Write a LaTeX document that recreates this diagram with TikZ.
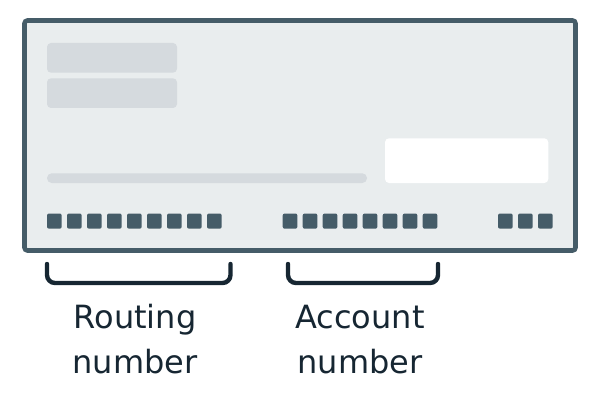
\documentclass[tikz,border=0pt]{standalone}
\usepackage{fontspec}
\setmainfont{DejaVu Sans}
\definecolor{frame}{RGB}{69,92,104}
\definecolor{paper}{RGB}{233,237,238}
\definecolor{bar}{RGB}{213,218,222}
\definecolor{ink}{RGB}{22,38,50}
\begin{document}
\begin{tikzpicture}[x=1pt,y=-1pt,
  chk/.style={draw=frame,fill=paper,line width=4.6pt,rounded corners=3pt},
  barbox/.style={fill=bar,rounded corners=4pt},
  glyph/.style={fill=frame,rounded corners=2pt},
  brk/.style={draw=ink,line width=4.4pt,rounded corners=8pt,line cap=round},
  lbl/.style={font=\fontsize{32}{45}\selectfont,text=ink,align=center,inner sep=0pt}]
\useasboundingbox (0,0) rectangle (596,406);
\path[chk] (24.5,20.5) rectangle (575.5,250.5);
\path[barbox] (47,43) rectangle (177,72.7);
\path[barbox] (47,78.3) rectangle (177,108);
\path[fill=bar,rounded corners=4.7pt] (47,173.3) rectangle (367,183);
\path[fill=white,rounded corners=4pt] (385,138.3) rectangle (548.3,183);
\foreach \i in {0,...,8} {\path[glyph] (47+20*\i,213.5) rectangle (61.7+20*\i,228.7);}
\foreach \i in {0,...,7} {\path[glyph] (282.7+20*\i,213.5) rectangle (297.4+20*\i,228.7);}
\foreach \i in {0,...,2} {\path[glyph] (498+20*\i,213.5) rectangle (512.7+20*\i,228.7);}
\draw[brk] (47,264) -- (47,283) -- (230.5,283) -- (230.5,264);
\draw[brk] (288,264) -- (288,283) -- (438,283) -- (438,264);
\node[lbl,anchor=base] (r1) at (135,328.3) {Routing};
\node[lbl,anchor=base] (r2) at (135,373.3) {number};
\node[lbl,anchor=base] (a1) at (360,328.3) {Account};
\node[lbl,anchor=base] (a2) at (360,373.3) {number};
\end{tikzpicture}
\end{document}
